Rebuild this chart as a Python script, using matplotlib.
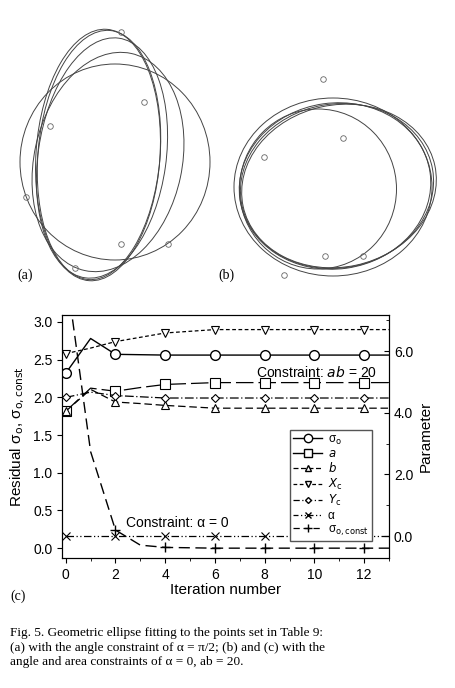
import matplotlib
matplotlib.use("Agg")
import matplotlib.pyplot as plt
from matplotlib.patches import Ellipse
from matplotlib.lines import Line2D

plt.rcParams['font.family'] = ['Liberation Sans', 'DejaVu Sans']

# iteration data
it = [0, 1, 2, 3, 4, 6, 8, 10, 12, 13]
mk = [0, 2, 4, 6, 8, 10, 12]
sigma_o = [2.32, 2.78, 2.57, 2.565, 2.56, 2.56, 2.56, 2.56, 2.56, 2.56]
sigma_const = [3.69, 1.28, 0.24, 0.04, 0.01, 0.0, 0.0, 0.0, 0.0, 0.0]
a_par = [4.05, 4.8, 4.7, 4.82, 4.92, 4.98, 4.98, 4.98, 4.98, 4.98]
b_par = [4.05, 4.76, 4.35, 4.3, 4.24, 4.15, 4.15, 4.15, 4.15, 4.15]
xc_par = [5.92, 6.1, 6.31, 6.45, 6.59, 6.7, 6.7, 6.7, 6.7, 6.7]
yc_par = [4.5, 4.67, 4.56, 4.52, 4.48, 4.48, 4.48, 4.48, 4.48, 4.48]
alpha_par = [0, 0, 0, 0, 0, 0, 0, 0, 0, 0]

# ellipse panels (pixel units): cx, cy, w, h, angle
ell_a = [(98, 155, 124, 252, 4), (99, 155, 122, 250, 5), (102, 158, 128, 242, 8),
         (108, 162, 148, 222, 12), (115, 162, 190, 196, 0)]
pts_a = [(121, 32), (144, 102), (50, 126), (26, 197), (121, 244), (168, 244), (75, 268)]
ell_b = [(333, 187, 198, 178, 0), (335, 186, 192, 166, -8), (337, 186, 194, 164, -10),
         (339, 186, 196, 162, -12), (318, 189, 157, 160, 0)]
pts_b = [(323, 79), (343, 138), (264, 157), (325, 256), (363, 256), (284, 275)]

fig = plt.figure(figsize=(4.56, 6.88), dpi=100)
bg = fig.add_axes([0, 0, 1, 1])
bg.set_xlim(0, 456)
bg.set_ylim(688, 0)
bg.axis('off')
for cx, cy, w, h, ang in ell_a + ell_b:
    bg.add_patch(Ellipse((cx, cy), w, h, angle=ang, fill=False, ec='#444444', lw=0.7))
for x, y in pts_a + pts_b:
    bg.plot(x, y, 'o', ms=4, mfc='none', mec='#666666', mew=0.6)
serif = ['Liberation Serif', 'DejaVu Serif']
bg.text(17, 275, '(a)', family=serif, fontsize=10, va='center')
bg.text(218, 275, '(b)', family=serif, fontsize=10, va='center')
bg.text(10, 596, '(c)', family=serif, fontsize=10, va='center')
cap = ("Fig. 5. Geometric ellipse fitting to the points set in Table 9:\n"
       "(a) with the angle constraint of \u03b1 = \u03c0/2; (b) and (c) with the\n"
       "angle and area constraints of \u03b1 = 0, ab = 20.")
bg.text(10, 627, cap, family=serif, fontsize=9.5, va='top', linespacing=1.3)

ax = fig.add_axes([0.136, 0.189, 0.717, 0.353])
ax.plot(it, sigma_o, 'k-', lw=1)
ax.plot(mk, [sigma_o[it.index(m)] for m in mk], 'o', ms=7, mfc='white', mec='k')
ax.plot(it, sigma_const, 'k', ls=(0, (8, 4)), lw=1)
ax.plot(mk[1:], [sigma_const[it.index(m)] for m in mk[1:]], '+', ms=7, mec='k')
ax.set_xlim(-0.15, 13)
ax.set_ylim(-0.13, 3.09)
ax.set_xticks([0, 2, 4, 6, 8, 10, 12])
ax.set_xticks(range(0, 14), minor=True)
ax.set_yticks([0, 0.5, 1.0, 1.5, 2.0, 2.5, 3.0])
ax.set_yticklabels(['0.0', '0.5', '1.0', '1.5', '2.0', '2.5', '3.0'])
ax.tick_params(direction='out', labelsize=10)
ax.set_xlabel('Iteration number', fontsize=11, labelpad=1)
ax.set_ylabel('Residual \u03c3$_{\\rm o}$, \u03c3$_{\\rm o,const}$', fontsize=11)

ax2 = ax.twinx()
styles = [(a_par, (0, (14, 4)), 's'), (b_par, (0, (6, 3)), '^'),
          (xc_par, (0, (3, 2)), 'v'), (yc_par, (0, (7, 2, 1, 2)), 'D'),
          (alpha_par, (0, (6, 2, 1, 2, 1, 2)), 'x')]
for vals, ls, m in styles:
    ax2.plot(it, vals, 'k', ls=ls, lw=0.9)
    ms = 7 if m == 's' else (4 if m == 'D' else 6)
    ax2.plot(mk, [vals[it.index(q)] for q in mk], m, ms=ms, mfc='white', mec='k', mew=0.8)
ax2.set_ylim(-0.71, 7.17)
ax2.set_yticks([0, 2, 4, 6])
ax2.set_yticklabels(['0.0', '2.0', '4.0', '6.0'])
ax2.set_yticks([1, 3, 5, 7], minor=True)
ax2.tick_params(direction='in', labelsize=10)
ax2.tick_params(which='minor', direction='in')
ax2.set_ylabel('Parameter', fontsize=11)
ax.text(12.5, 2.27, 'Constraint: $ab$ = 20', ha='right', fontsize=10)
ax.text(4.5, 0.28, 'Constraint: \u03b1 = 0', ha='center', fontsize=10)

# legend
h = [Line2D([], [], color='k', lw=1, marker='o', mfc='white', ms=6),
     Line2D([], [], color='k', lw=1, marker='s', mfc='white', ms=6),
     Line2D([], [], color='k', lw=0.9, ls=(0, (4, 2)), marker='^', mfc='white', ms=4),
     Line2D([], [], color='k', lw=0.9, ls=(0, (3, 2)), marker='v', mfc='white', ms=5),
     Line2D([], [], color='k', lw=0.9, ls=(0, (5, 2, 1, 2)), marker='D', mfc='white', ms=3),
     Line2D([], [], color='k', lw=0.9, ls=(0, (4, 2, 1, 2, 1, 2)), marker='x', ms=4),
     Line2D([], [], color='k', lw=0.9, ls=(0, (5, 3)), marker='+', ms=6)]
lab = ['\u03c3$_{\\rm o}$', '$a$', '$b$', '$X_{\\rm c}$', '$Y_{\\rm c}$', '\u03b1',
       '\u03c3$_{\\rm o,const}$']
fig.legend(h, lab, loc='upper left', bbox_to_anchor=(284 / 456, 1 - 424 / 688), fontsize=8.5,
           fancybox=False, edgecolor='#555555', handlelength=2.4, labelspacing=0.12,
           borderpad=0.3, handletextpad=0.5, framealpha=1)
fig.savefig('out.png', dpi=100)
